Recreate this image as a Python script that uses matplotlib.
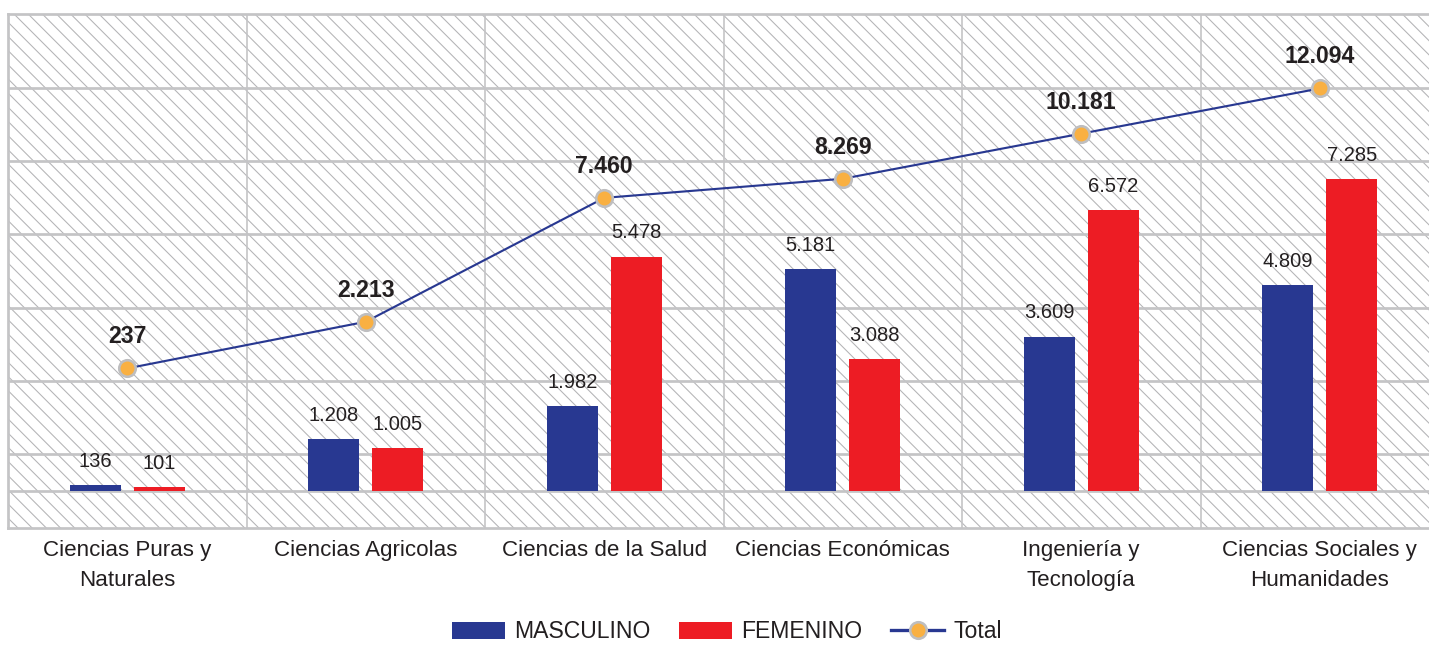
import matplotlib
matplotlib.use("Agg")
import matplotlib.pyplot as plt
from matplotlib.patches import Rectangle
from matplotlib.lines import Line2D
from matplotlib.patches import Patch
import numpy as np

categories = ["Ciencias Puras y\nNaturales", "Ciencias Agricolas", "Ciencias de la Salud",
              "Ciencias Económicas", "Ingeniería y\nTecnología", "Ciencias Sociales y\nHumanidades"]
masculino = [136, 1208, 1982, 5181, 3609, 4809]
femenino = [101, 1005, 5478, 3088, 6572, 7285]
total = [237, 2213, 7460, 8269, 10181, 12094]
series_names = ["MASCULINO", "FEMENINO", "Total"]

def fmt(v):
    return f"{v:,}".replace(",", ".")

BLUE = "#283891"
RED = "#ED1C24"
ORANGE = "#F9B042"
MEDGE = "#BEBEC0"
GRID = "#C4C4C6"
TXT = "#231F20"

DPI = 85
W, H = 1429, 645
plt.rcParams['font.family'] = ['Liberation Sans', 'DejaVu Sans']
plt.rcParams['hatch.linewidth'] = 0.9

fig = plt.figure(figsize=(W / DPI, H / DPI), dpi=DPI)
fig.patch.set_facecolor("white")
ax = fig.add_axes([8 / W, (H - 528) / H, 1431 / W, 514 / H])
ax.set_facecolor("white")

# hatched background
ax.add_patch(Rectangle((0, 0), 1, 1, transform=ax.transAxes, fill=False,
                       hatch="\\\\", edgecolor="#B4B4B6", linewidth=0, zorder=0))

x = np.arange(len(categories))
bw = 0.214
off = 0.134
ax.bar(x - off, masculino, bw, color=BLUE, zorder=3)
ax.bar(x + off, femenino, bw, color=RED, zorder=3)
for xi, v in zip(x - off, masculino):
    ax.annotate(fmt(v), (xi, v), xytext=(0, 12), textcoords="offset points",
                ha="center", va="bottom", fontsize=17, color=TXT, zorder=4)
for xi, v in zip(x + off, femenino):
    ax.annotate(fmt(v), (xi, v), xytext=(0, 12), textcoords="offset points",
                ha="center", va="bottom", fontsize=17, color=TXT, zorder=4)

ax.set_xlim(-0.5, len(categories) - 0.5)
ax.set_ylim(-864, 11145)
ax.set_yticks([0] + [864 + 1710 * k for k in range(6)])
ax.set_yticklabels([])
ax.tick_params(axis="y", length=0)
ax.set_xticks(x)
ax.set_xticklabels(categories, fontsize=19, color=TXT, linespacing=1.55)
ax.tick_params(axis="x", length=0, pad=10)
ax.set_xticks(np.arange(len(categories)) + 0.5, minor=True)
ax.tick_params(axis="x", which="minor", length=0)
ax.grid(axis="y", which="major", color=GRID, linewidth=2.3, zorder=1)
ax.grid(axis="x", which="minor", color=GRID, linewidth=1.4, zorder=1)
ax.grid(axis="x", which="major", visible=False)
ax.set_axisbelow(True)
for s in ["top", "left", "bottom", "right"]:
    ax.spines[s].set_color(GRID)
    ax.spines[s].set_linewidth(2.3)

ax2 = ax.twinx()
ax2.set_ylim(-6523, 15248)
ax2.plot(x, total, color=BLUE, linewidth=1.8, marker="o", markersize=14,
         markerfacecolor=ORANGE, markeredgecolor=MEDGE, markeredgewidth=2.2, zorder=5)
for xi, v in zip(x, total):
    ax2.annotate(fmt(v), (xi, v), xytext=(0, 17), textcoords="offset points",
                 ha="center", va="bottom", fontsize=19.5, fontweight="bold", color=TXT)
ax2.set_yticks([])
for s in ax2.spines.values():
    s.set_visible(False)
ax2.patch.set_visible(False)

handles = [Patch(facecolor=BLUE, edgecolor="none"),
           Patch(facecolor=RED, edgecolor="none"),
           Line2D([0], [0], color=BLUE, linewidth=2.8, marker="o", markersize=14,
                  markerfacecolor=ORANGE, markeredgecolor=MEDGE, markeredgewidth=2.2)]
fig.legend(handles, series_names, loc="center", bbox_to_anchor=(727 / W, 13 / H),
           ncol=3, frameon=False, fontsize=19.5, handlelength=2.3, handleheight=0.75,
           handletextpad=0.4, columnspacing=1.25, borderpad=0, labelcolor=TXT)

fig.savefig("out.png", dpi=DPI, facecolor="white")
